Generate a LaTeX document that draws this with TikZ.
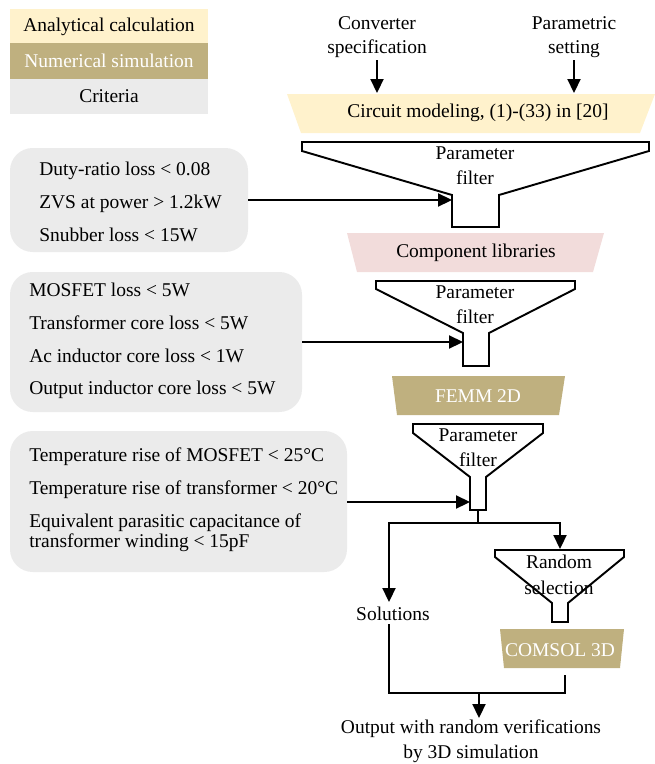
\documentclass[tikz,border=0pt]{standalone}
\usepackage{fontspec}
\setmainfont{Liberation Serif}
\usetikzlibrary{arrows.meta}
\definecolor{cream}{RGB}{255,242,204}
\definecolor{tan}{RGB}{191,176,127}
\definecolor{pinkc}{RGB}{242,220,219}
\definecolor{greyc}{RGB}{235,235,235}
\begin{document}
\begin{tikzpicture}[x=0.75pt,y=-0.75pt,
  every node/.style={font=\fontsize{14.6pt}{18.5pt}\selectfont, inner sep=0pt},
  line/.style={line width=1.45pt},
  arr/.style={line width=1.45pt,-{Triangle[length=10.5pt,width=9.8pt]}},
  funnel/.style={line width=1.45pt, draw=black, fill=white, line join=miter},
  critbox/.style={fill=greyc, rounded corners=17pt},
  crittext/.style={anchor=west, align=left, font=\fontsize{14.6pt}{24.6pt}\selectfont},
  legend/.style={minimum width=148.5pt, minimum height=26.25pt},
  ftext/.style={align=center}
]
\useasboundingbox (0,0) rectangle (655,764);
% legend
\node[legend, fill=cream] (lg1) at (109,26.5) {Analytical calculation};
\node[legend, fill=tan, text=white, minimum height=27pt] (lg2) at (109,61) {Numerical simulation};
\node[legend, fill=greyc] (lg3) at (109,96) {Criteria};
% inputs
\node[ftext] (conv) at (377,37) {Converter\\specification};
\node[ftext] (para) at (574,37) {Parametric\\setting};
\coordinate (convin) at (377,93);
\coordinate (parain) at (574,93);
\draw[arr] (377,60) -- (convin);
\draw[arr] (574,60) -- (parain);
% circuit modeling
\fill[cream] (287,94) -- (655,94) -- (640,133) -- (301,133) -- cycle;
\node (circ) at (478,113) {Circuit modeling, (1)-(33) in [20]};
% funnel 1
\draw[funnel] (302,142) -- (649,142) -- (649,151) -- (499,195) -- (499,227) -- (452,227) -- (452,195) -- (302,151) -- cycle;
\node[ftext,font=\fontsize{14.6pt}{18.75pt}\selectfont] (f1) at (475,165.5) {Parameter\\filter};
\coordinate (n1) at (452,200);
% component libraries
\fill[pinkc] (347,233) -- (604,233) -- (593,272) -- (357,272) -- cycle;
\node (comp) at (476,253) {Component libraries};
% funnel 2
\draw[funnel] (376,281) -- (575,281) -- (575,289) -- (489,333) -- (489,366) -- (463,366) -- (463,333) -- (376,289) -- cycle;
\node[ftext,font=\fontsize{14.6pt}{18.75pt}\selectfont] (f2) at (475,304.5) {Parameter\\filter};
\coordinate (n2) at (463,342);
% FEMM
\fill[tan] (392,376) -- (565,376) -- (559,415) -- (397,415) -- cycle;
\node[text=white] (femm) at (478,396) {FEMM 2D};
% funnel 3
\draw[funnel] (413,424) -- (543,424) -- (543,433) -- (486,477) -- (486,510) -- (470,510) -- (470,477) -- (413,433) -- cycle;
\node[ftext,font=\fontsize{14.6pt}{18.75pt}\selectfont] (f3) at (478,447.5) {Parameter\\filter};
\coordinate (n3) at (470,502);
\coordinate (n3b) at (478,510);
% criteria boxes
\node[critbox, minimum width=178.5pt, minimum height=78pt] (c1) at (129,200) {};
\node[crittext] (t1) at (39,202) {Duty-ratio loss < 0.08\\ZVS at power > 1.2kW\\Snubber loss < 15W};
\node[critbox, minimum width=219pt, minimum height=105pt] (c2) at (156,342) {};
\node[crittext] (t2) at (29,341) {MOSFET loss < 5W\\Transformer core loss < 5W\\Ac inductor core loss < 1W\\Output inductor core loss < 5W};
\node[critbox, minimum width=252.75pt, minimum height=105.75pt] (c3) at (178.5,501.5) {};
\node[crittext] (t3) at (29,500) {Temperature rise of MOSFET < 25°C\\Temperature rise of transformer < 20°C\\Equivalent parasitic capacitance of\\[-9.6pt]transformer winding < 15pF};
\draw[arr] (c1.east) -- (n1);
\draw[arr] (c2.east) -- (n2);
\draw[arr] (c3.east |- n3) -- (n3);
% branches
\coordinate (j) at (478,523);
\coordinate (solin) at (389,602);
\coordinate (rin) at (560,549);
\draw[line] (n3b) -- (j);
\draw[arr] (j) -| (solin);
\draw[arr] (j) -| (rin);
\node (sol) at (393,614) {Solutions};
% random selection funnel
\draw[funnel] (495,550) -- (624,550) -- (624,557) -- (568,603) -- (568,622) -- (552,622) -- (552,603) -- (495,557) -- cycle;
\node[ftext,font=\fontsize{14.6pt}{19.5pt}\selectfont] (rs) at (559,575) {Random\\selection};
% COMSOL
\fill[tan] (500,629) -- (624,629) -- (620,668) -- (504,668) -- cycle;
\node[text=white] (comsol) at (560,650) {COMSOL 3D};
% merge
\coordinate (solout) at (389,624);
\coordinate (comout) at (565,675);
\coordinate (m) at (479,693);
\coordinate (outin) at (479,718);
\draw[line] (solout) |- (m) -| (comout);
\draw[arr] (m) -- (outin);
\node[ftext] (out) at (471,741.5) {Output with random verifications\\by 3D simulation};
\end{tikzpicture}
\end{document}
